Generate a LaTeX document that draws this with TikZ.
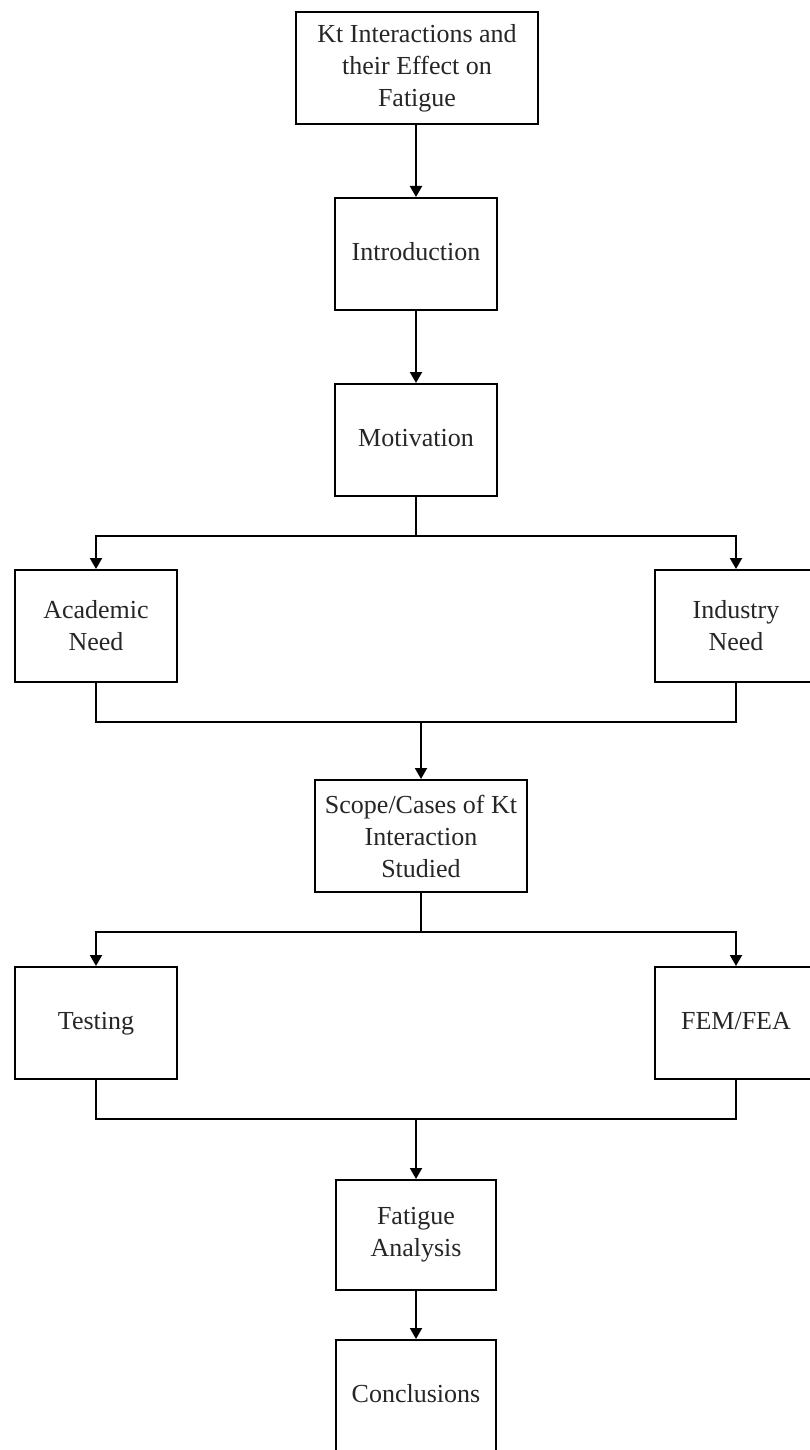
\documentclass[tikz,border=0pt]{standalone}
\usepackage{fontspec}
\setmainfont{Liberation Serif}
\usetikzlibrary{arrows.meta}
\begin{document}
\begin{tikzpicture}[x=1pt,y=-1pt,
  box/.style={draw, line width=2pt, rectangle, inner sep=0pt, align=center,
    font=\fontsize{26}{32}\selectfont, text=black!85},
  line/.style={line width=2pt},
  arr/.style={line width=2pt, -{Triangle[width=12pt,length=11pt]}}]
\useasboundingbox (0,0) rectangle (810,1450);
\clip (0,0) rectangle (810,1450);
\fill[white] (0,0) rectangle (810,1450);
\node[box, minimum width=242pt, minimum height=112pt] (kt) at (417,68) {Kt Interactions and\\their Effect on\\Fatigue};
\node[box, minimum width=162pt, minimum height=112pt] (intro) at (416,254) {\strut Introduction};
\node[box, minimum width=162pt, minimum height=112pt] (mot) at (416,440) {\strut Motivation};
\node[box, minimum width=162pt, minimum height=112pt] (acad) at (96,626) {Academic\\Need};
\node[box, minimum width=162pt, minimum height=112pt] (ind) at (736,626) {Industry\\Need};
\node[box, minimum width=212pt, minimum height=112pt] (scope) at (421,836) {Scope/Cases of Kt\\Interaction\\Studied};
\node[box, minimum width=162pt, minimum height=112pt] (test) at (96,1023) {\strut Testing};
\node[box, minimum width=162pt, minimum height=112pt] (fem) at (736,1023) {\strut FEM/FEA};
\node[box, minimum width=160pt, minimum height=110pt] (fat) at (416,1235) {Fatigue\\Analysis};
\node[box, minimum width=160pt, minimum height=112pt] (conc) at (416,1396) {\strut Conclusions};
\coordinate (s1) at (416,536);
\coordinate (j1) at (421,722);
\coordinate (s2) at (421,932);
\coordinate (j2) at (416,1119);
\draw[arr] (intro.north |- kt.south) -- (intro.north);
\draw[arr] (intro.south) -- (mot.north);
\draw[line] (mot.south) -- (s1);
\draw[arr] (s1) -| (acad.north);
\draw[arr] (s1) -| (ind.north);
\draw[line] (acad.south) |- (j1);
\draw[line] (ind.south) |- (j1);
\draw[arr] (j1) -- (scope.north);
\draw[line] (scope.south) -- (s2);
\draw[arr] (s2) -| (test.north);
\draw[arr] (s2) -| (fem.north);
\draw[line] (test.south) |- (j2);
\draw[line] (fem.south) |- (j2);
\draw[arr] (j2) -- (fat.north);
\draw[arr] (fat.south) -- (conc.north);
\end{tikzpicture}
\end{document}
